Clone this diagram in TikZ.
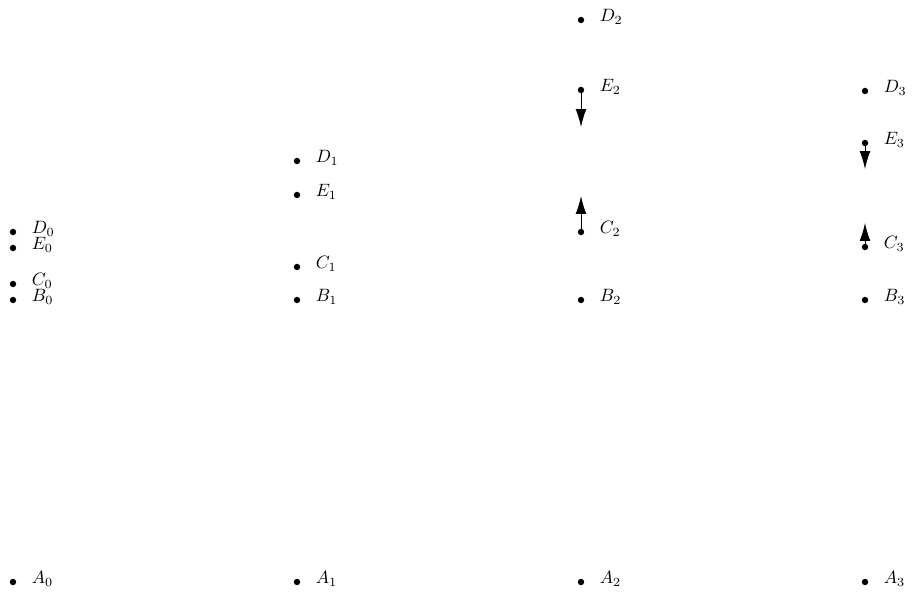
\documentclass[tikz,border=0pt]{standalone}
\usetikzlibrary{arrows.meta}
\begin{document}
\begin{tikzpicture}[x=0.56pt,y=-0.56pt,
  pt/.style={circle,fill=black,inner sep=0pt,minimum size=3.6pt},
  lab/.style={anchor=base west,inner sep=0pt},
  vec/.style={-{Latex[length=10pt,width=6pt]},line width=0.55pt}]
\useasboundingbox (0,0) rectangle (912,597);
\foreach \n/\x/\y in {A0/13/582,B0/13/300,C0/13/284,D0/13/232,E0/13/248,
  A1/297/582,B1/297/300,C1/297/267,D1/297/161,E1/297/195,
  A2/581/582,B2/581/300,C2/581/232,D2/581/20,E2/581/90,
  A3/865/582,B3/865/300,C3/865/247,D3/865/91,E3/865/143}{
  \node[pt] (\n) at (\x,\y) {};
}
\foreach \n/\l in {A0/A_0,B0/B_0,C0/C_0,D0/D_0,E0/E_0,
  A1/A_1,B1/B_1,C1/C_1,D1/D_1,E1/E_1,
  A2/A_2,B2/B_2,C2/C_2,D2/D_2,E2/E_2,
  A3/A_3,B3/B_3,C3/C_3,D3/D_3,E3/E_3}{
  \node[lab] (l\n) at ([xshift=10.3pt,yshift=-0.8pt]\n.center) {$\l$};
}
\coordinate (e2t) at (581,127);
\coordinate (c2t) at (581,196);
\coordinate (e3t) at (865,169);
\coordinate (c3t) at (865,223);
\draw[vec] (E2.center) -- (e2t);
\draw[vec] (C2.center) -- (c2t);
\draw[vec] (E3.center) -- (e3t);
\draw[vec] (C3.center) -- (c3t);
\end{tikzpicture}
\end{document}
